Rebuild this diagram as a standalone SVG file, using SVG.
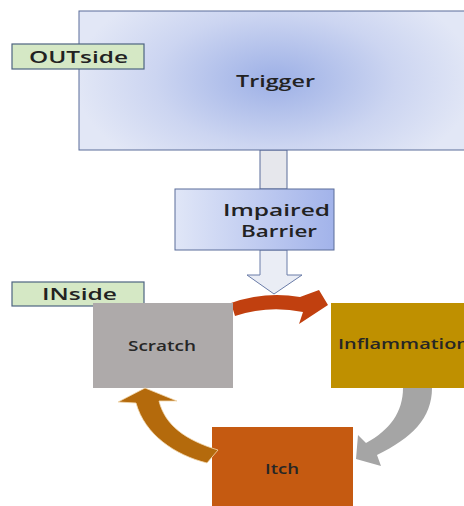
<svg xmlns="http://www.w3.org/2000/svg" width="464" height="506" viewBox="0 0 464 506">
<defs>
<radialGradient id="gTrig" cx="275" cy="80" r="200" gradientUnits="userSpaceOnUse" gradientTransform="translate(275 80) scale(1 0.55) translate(-275 -80)">
<stop offset="0" stop-color="#9db0e6"/>
<stop offset="0.6" stop-color="#ccd5f1"/>
<stop offset="1" stop-color="#e2e7f6"/>
</radialGradient>
<linearGradient id="gBar" x1="0" y1="0" x2="1" y2="0">
<stop offset="0" stop-color="#e0e6f7"/>
<stop offset="1" stop-color="#a2b3ea"/>
</linearGradient>
<style>
.lbl{fill:#d5e8c5;stroke:#4e6480;stroke-width:1.2}
.blue{stroke:#5a6d99;stroke-width:1}
.t{font-family:"Open Sans","Liberation Sans",sans-serif;fill:#222222;font-size:17px;font-weight:600}
.s{font-family:"Open Sans","Liberation Sans",sans-serif;fill:#262626;font-size:14px;font-weight:600}
</style>
</defs>
<g id="connectors">
<rect x="260" y="150" width="27" height="39" fill="#e6e7ec" class="blue"/>
<path d="M260,250 L287,250 L287,275 L302,275 L274,294 L247,275 L260,275 Z" fill="#eaedf5" stroke="#6a7ca8" stroke-width="1"/>
<path d="M231,303 Q265,291 300,297 L319,290 L328,305 L299,324 L303,312 Q268,305 235,316 Z" fill="#c1400f"/>
<path d="M403,388 C403,412 390,430 366,443 L358,435 L356,459 L381,466 L377,455 C412,438 432,418 432,388 Z" fill="#a5a5a5"/>
</g>
<g id="trigger">
<rect x="79" y="11" width="400" height="139" fill="url(#gTrig)" class="blue"/>
<text class="t" x="236" y="87" textLength="79" lengthAdjust="spacingAndGlyphs">Trigger</text>
</g>
<g id="outside">
<rect x="12" y="44" width="132" height="25" class="lbl"/>
<text class="t" x="29" y="63" textLength="99" lengthAdjust="spacingAndGlyphs">OUTside</text>
</g>
<g id="barrier">
<rect x="175" y="189" width="159" height="61" fill="url(#gBar)" class="blue"/>
<text class="t" x="223" y="216" textLength="107" lengthAdjust="spacingAndGlyphs">Impaired</text>
<text class="t" x="241" y="237" textLength="76" lengthAdjust="spacingAndGlyphs">Barrier</text>
</g>
<g id="inside">
<rect x="12" y="282" width="132" height="24" class="lbl"/>
<text class="t" x="42" y="300" textLength="75" lengthAdjust="spacingAndGlyphs">INside</text>
</g>
<g id="scratch">
<rect x="93" y="303" width="140" height="85" fill="#aeaaaa"/>
<text class="s" x="128" y="351" textLength="68" lengthAdjust="spacingAndGlyphs">Scratch</text>
</g>
<g id="inflammation">
<rect x="331" y="303" width="140" height="85" fill="#bf9000"/>
<text class="s" x="338" y="349" textLength="131" lengthAdjust="spacingAndGlyphs">Inflammation</text>
</g>
<g id="itch">
<rect x="212" y="427" width="141" height="79" fill="#c55a11"/>
<text class="s" x="265" y="474" textLength="34" lengthAdjust="spacingAndGlyphs">Itch</text>
</g>
<g id="itch-to-scratch">
<path d="M218,450 L207,463 C175,455 145,435 136,403 L118,402 L145,388 L177,401 L159,401 C165,425 185,440 218,450 Z" fill="#b46a0c" stroke="#f3d9b0" stroke-width="0.8"/>
</g>
</svg>
